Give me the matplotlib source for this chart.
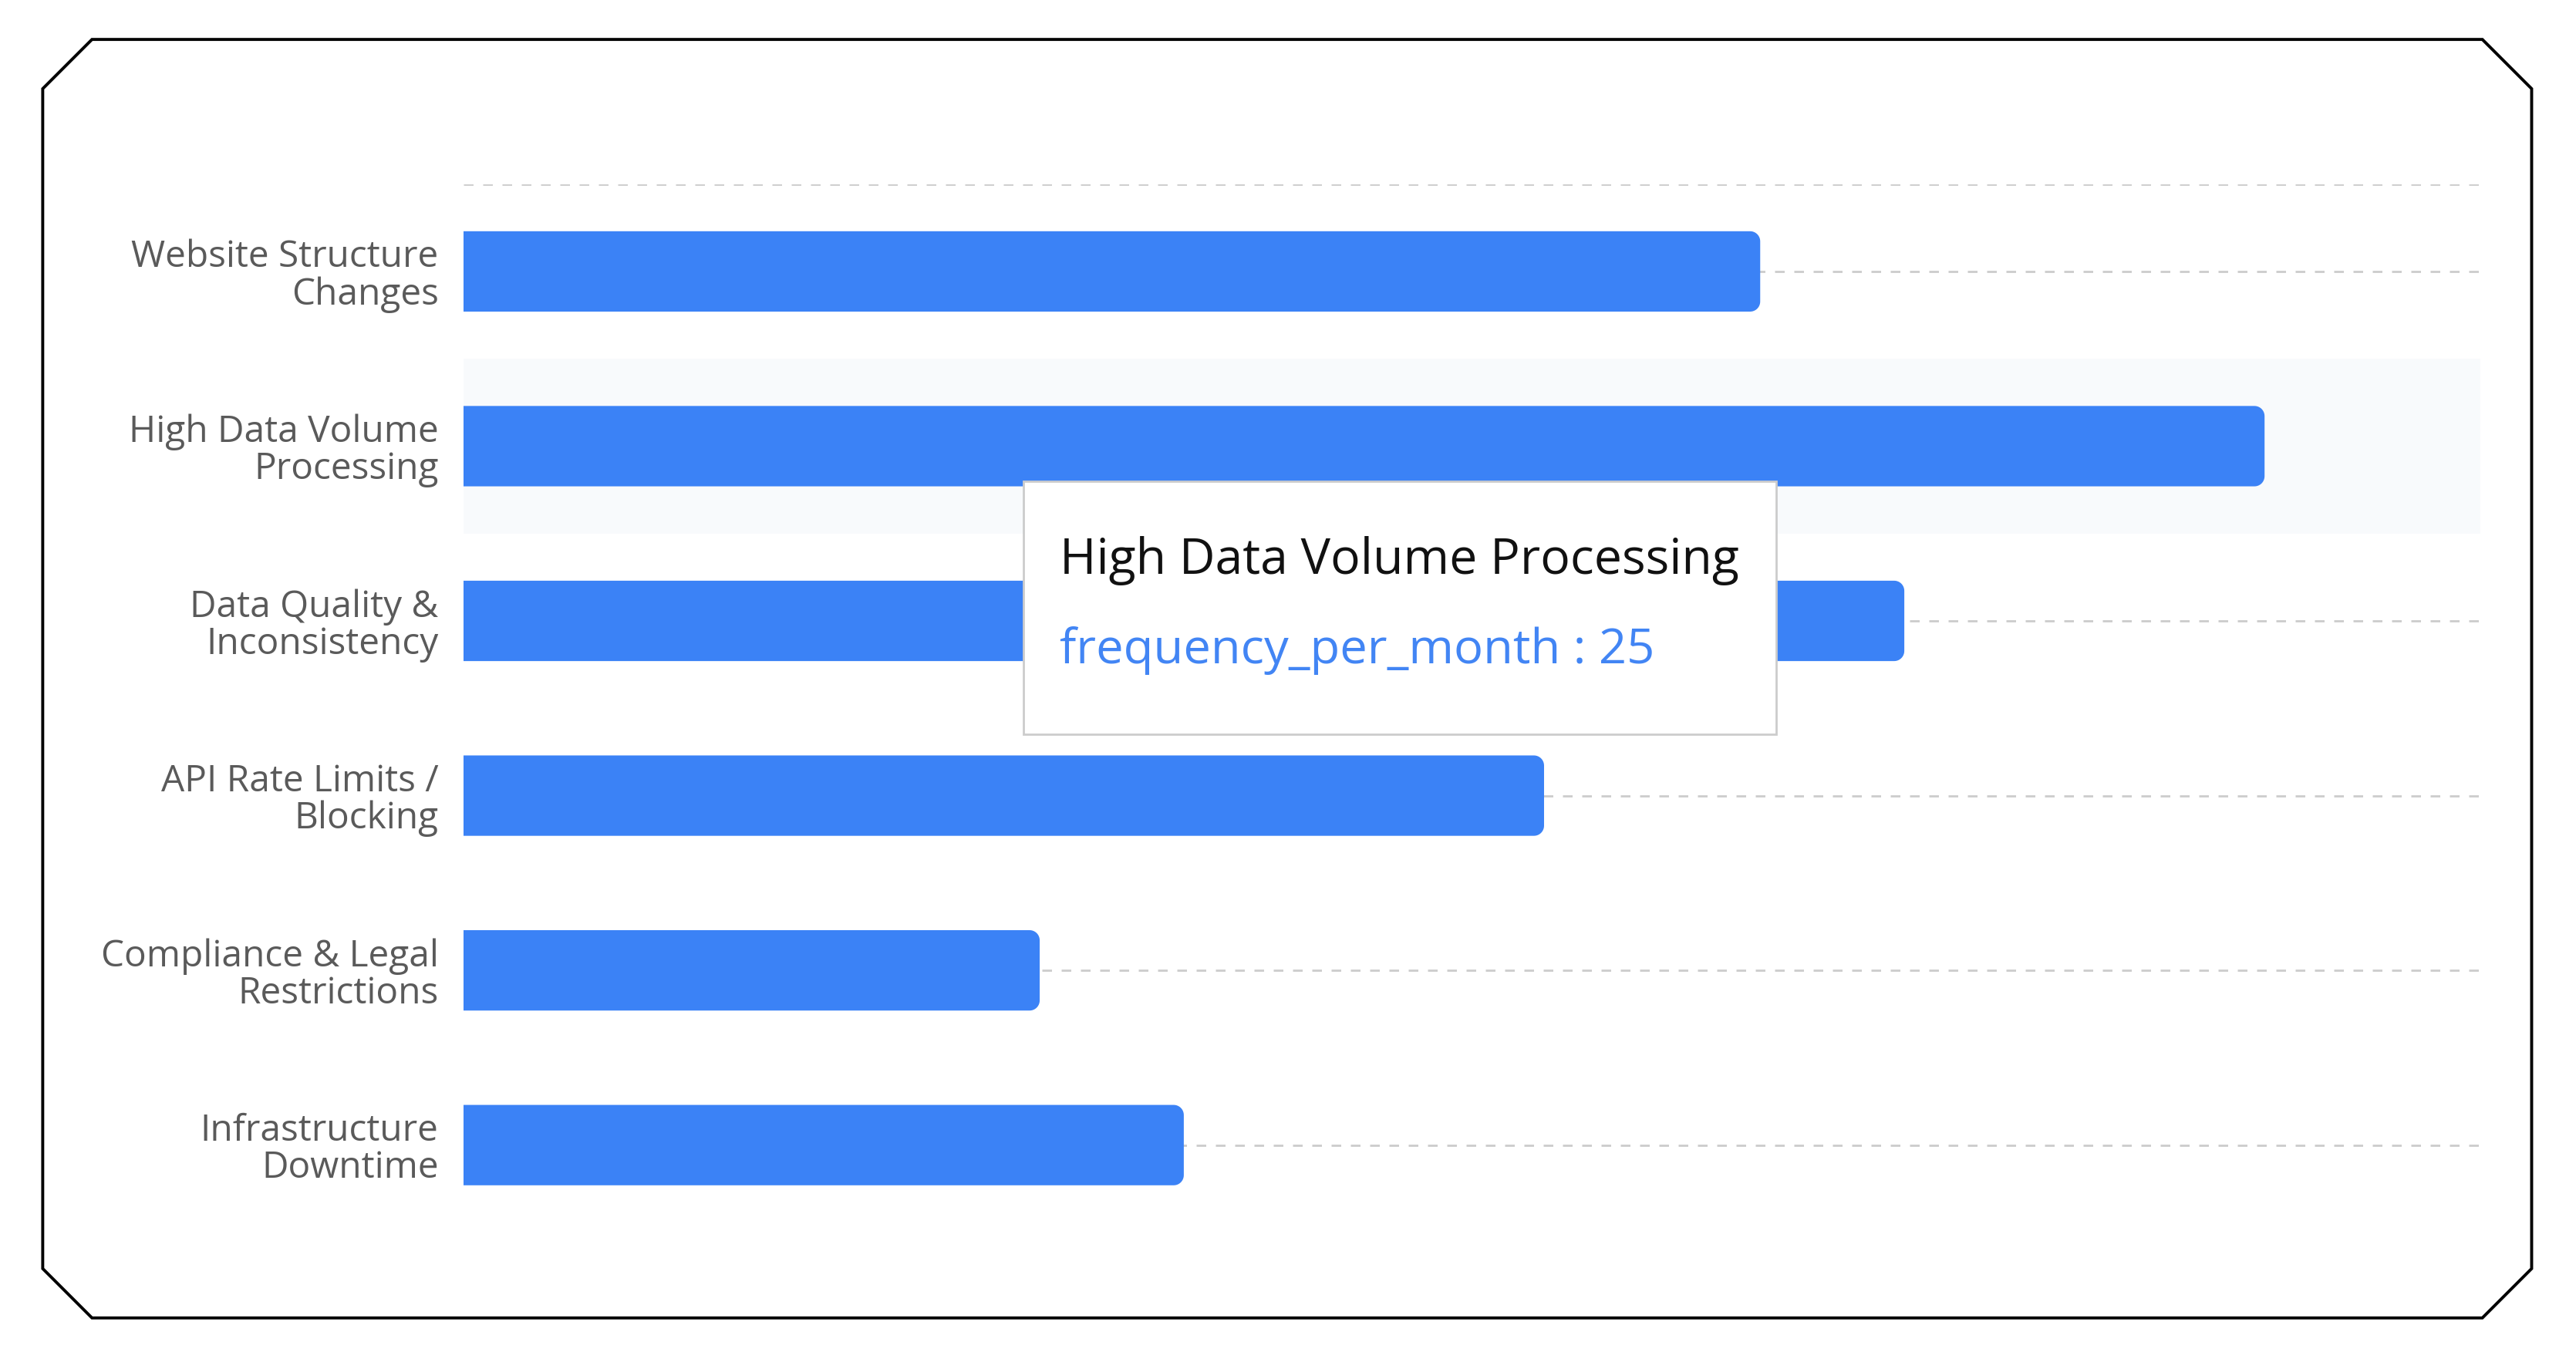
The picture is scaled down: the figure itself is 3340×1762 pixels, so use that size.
import matplotlib
matplotlib.use("Agg")
import numpy as np
import matplotlib.pyplot as plt
from matplotlib.patches import Rectangle, Polygon

plt.rcParams['font.family'] = ['Open Sans', 'DejaVu Sans']

# data
categories = ["Website Structure\nChanges", "High Data Volume\nProcessing",
              "Data Quality &\nInconsistency", "API Rate Limits /\nBlocking",
              "Compliance & Legal\nRestrictions", "Infrastructure\nDowntime"]
frequency_per_month = [18, 25, 20, 15, 8, 10]
hover_index = 1
hover_title = "High Data Volume Processing"
hover_label = "frequency_per_month : 25"

W, H = 3340, 1762
fig = plt.figure(figsize=(W / 200, H / 200), dpi=200)
fig.patch.set_facecolor("white")

# shrunk-image coordinates (1568 x 827) -> figure fractions
def fx(x):
    return x / 1568

def fy(y):
    return 1 - y / 827

ax = fig.add_axes([fx(282), fy(750), fx(1510) - fx(282), fy(112) - fy(750)])
ax.set_xlim(0, 28)
ax.set_ylim(len(categories) - 0.5, -0.5)

blue = "#3b82f6"
grid_c = "#cccccc"

# dashed guide lines
ax.axhline(-0.5, color=grid_c, lw=1.0, dashes=(4.5, 4.5), zorder=0)
for i in range(len(categories)):
    ax.axhline(i, color=grid_c, lw=1.0, dashes=(4.5, 4.5), zorder=0)

# hover shadow band
ax.axhspan(hover_index - 0.5, hover_index + 0.5, color="#f8fafc", zorder=1, lw=0)

bars = ax.barh(range(len(categories)), frequency_per_month, height=0.46,
               color=blue, zorder=2)

# replace each bar by one with rounded right corners
rx = 0.14                      # radius in x data units
ry = rx * (43.92 / 106.4)      # same radius in y data units
t = np.linspace(0, np.pi / 2, 12)
for b in bars:
    x0, y0, w, h = b.get_x(), b.get_y(), b.get_width(), b.get_height()
    b.set_visible(False)
    x1, y1 = x0 + w, y0 + h
    # y axis is inverted: y0 is the top edge on screen
    top = [(x1 - rx + rx * np.sin(a), y0 + ry - ry * np.cos(a)) for a in t]
    bot = [(x1 - rx + rx * np.cos(a), y1 - ry + ry * np.sin(a)) for a in t]
    pts = [(x0, y0)] + top + bot + [(x0, y1)]
    ax.add_patch(Polygon(pts, closed=True, fc=blue, ec="none", zorder=2))

ax.set_yticks(range(len(categories)))
ax.set_yticklabels(categories, fontsize=17.2, color="#5a5a5a", linespacing=1.02)
ax.tick_params(axis="y", length=0, pad=11.5)
ax.set_xticks([])
for s in ax.spines.values():
    s.set_visible(False)

# tooltip
tip = Rectangle((fx(623), fy(447)), fx(1081) - fx(623), fy(293) - fy(447),
                transform=fig.transFigure, fc="white", ec="#cccccc", lw=1.0, zorder=5)
fig.patches.append(tip)
fig.text(fx(645), fy(341), hover_title, fontsize=23.2, color="#111111",
         va="center", ha="left", zorder=6)
fig.text(fx(645), fy(396), hover_label, fontsize=22.8, color="#4285f4",
         va="center", ha="left", zorder=6)

# outer frame with cut corners
c = 30
L, R, T, B = 26, 1541, 24, 802
pts = [(L + c, T), (R - c, T), (R, T + c), (R, B - c), (R - c, B), (L + c, B),
       (L, B - c), (L, T + c)]
frame = Polygon([(fx(x), fy(y)) for x, y in pts], closed=True, fill=False,
                ec="black", lw=1.4, transform=fig.transFigure, zorder=7)
fig.patches.append(frame)

fig.savefig("out.png", dpi=200, facecolor="white")
